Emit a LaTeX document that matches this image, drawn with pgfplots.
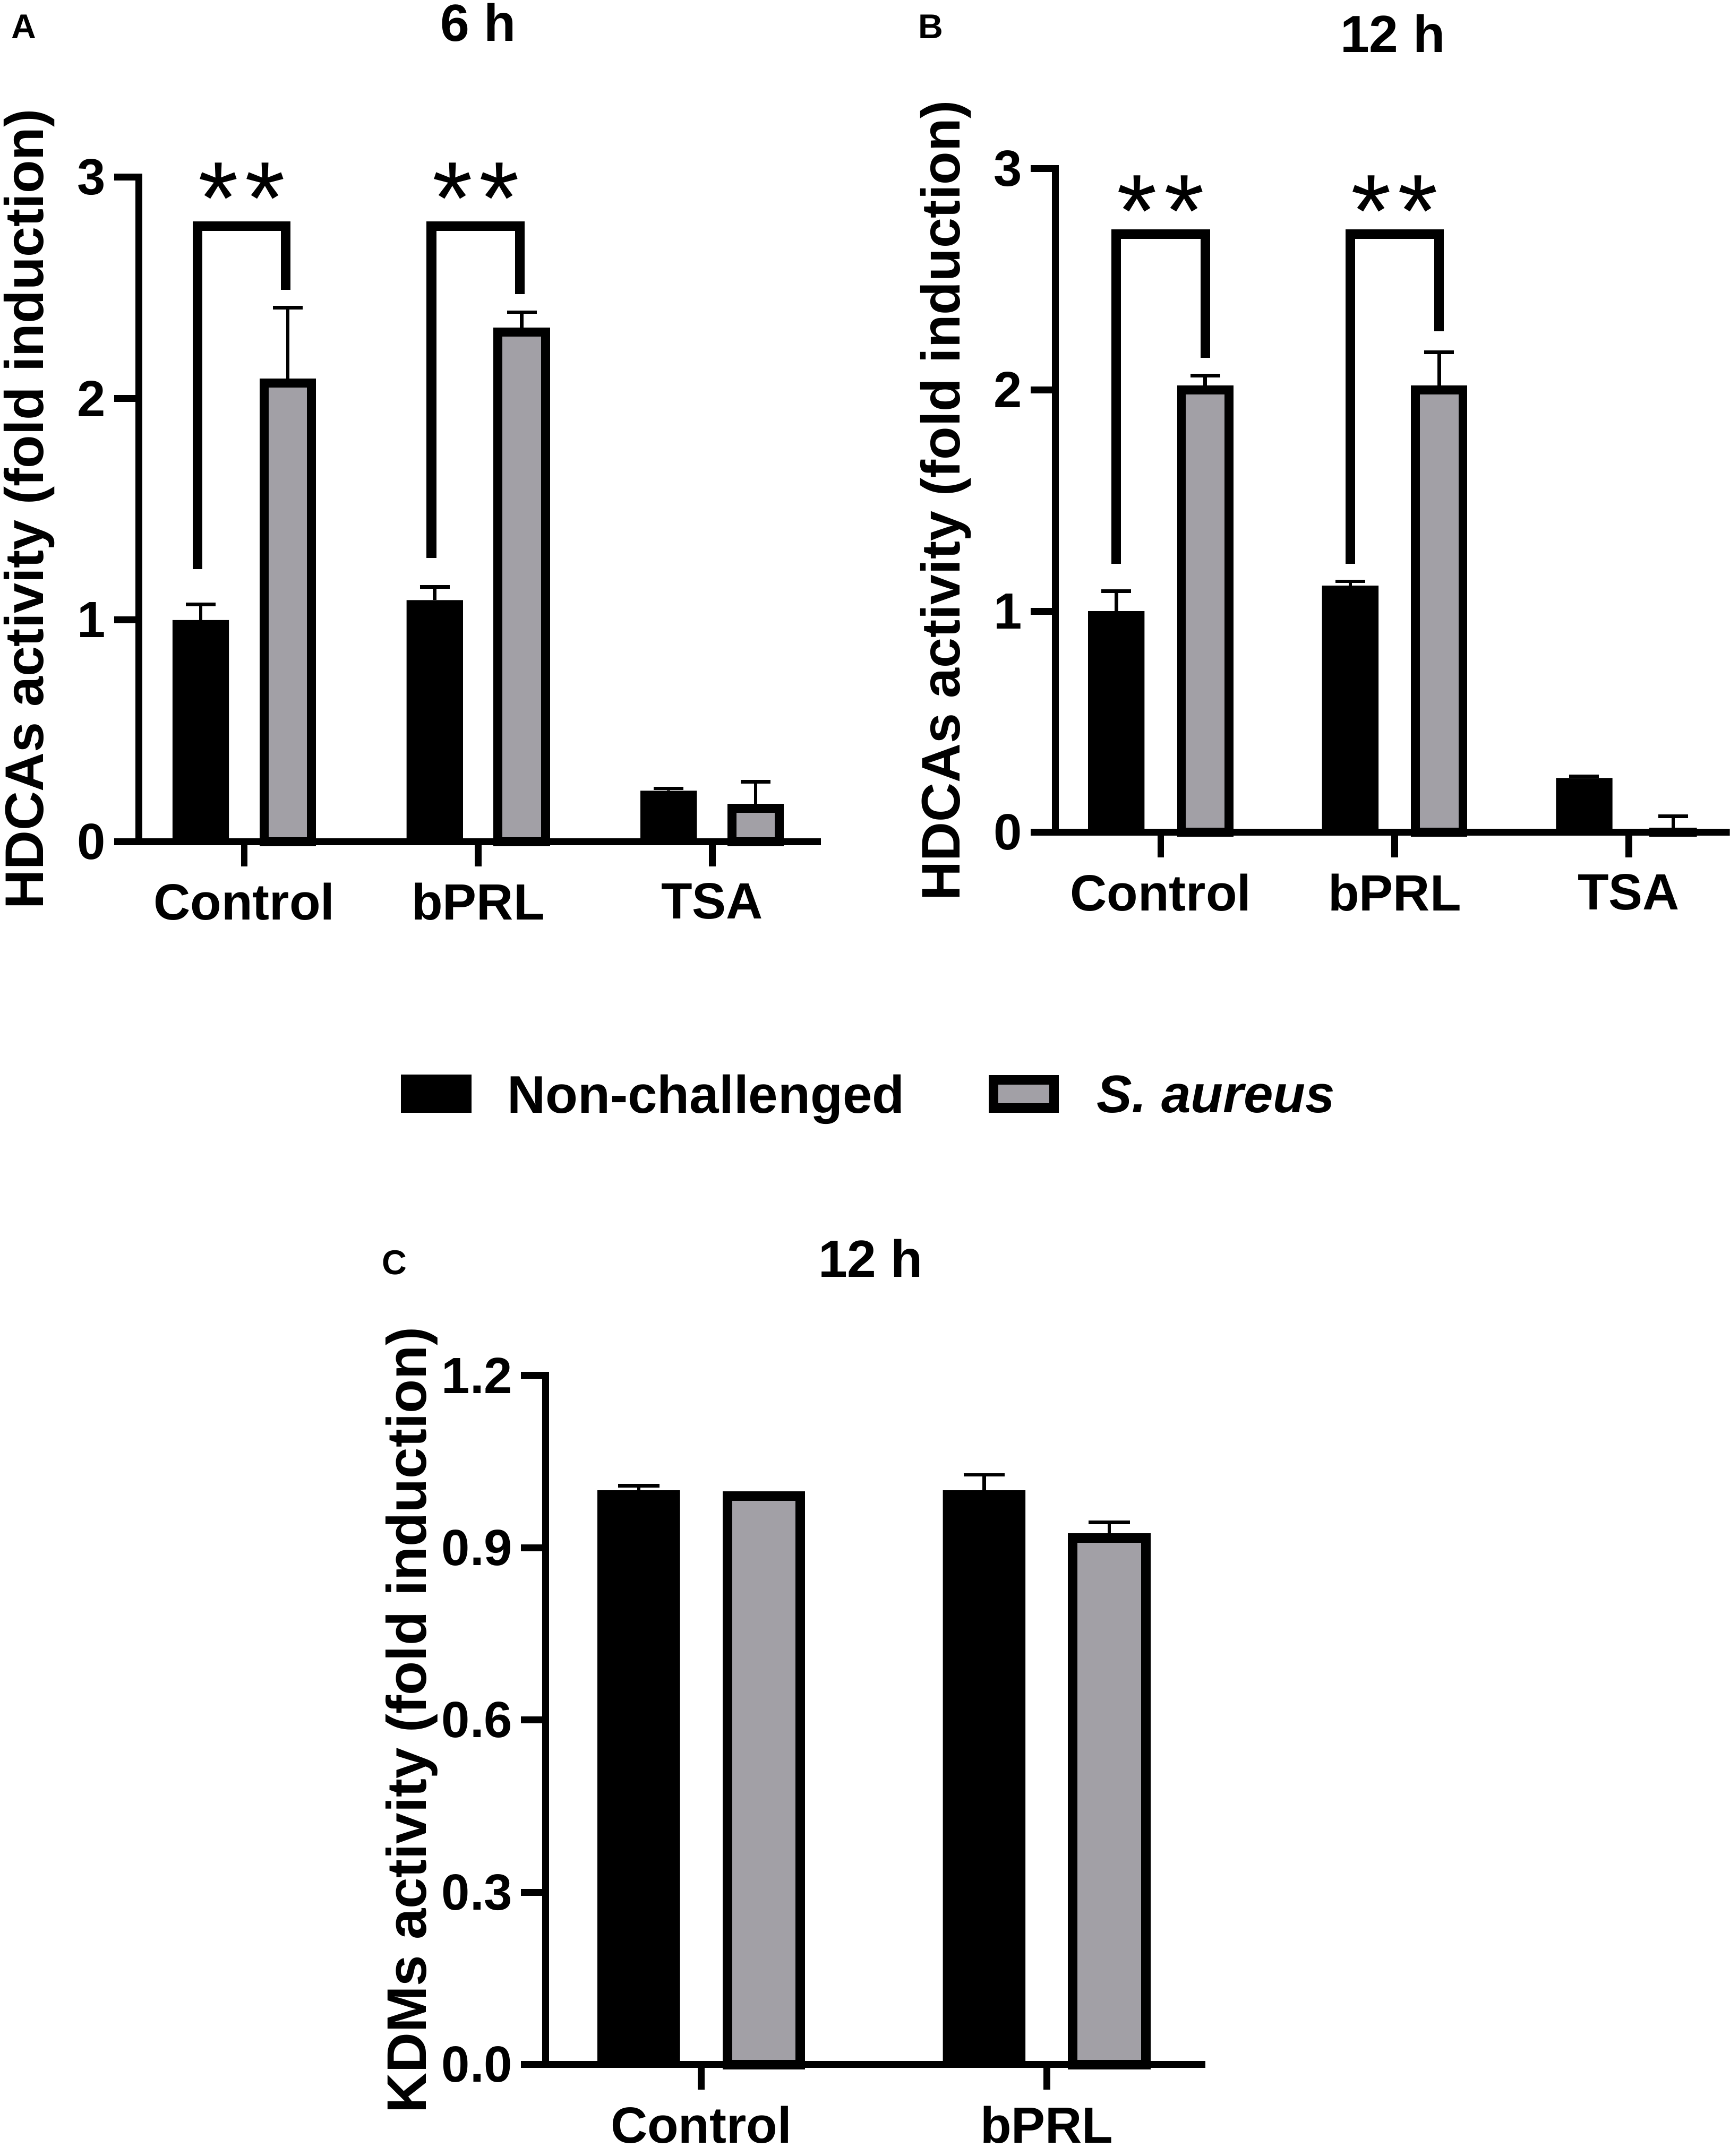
\documentclass[border=0pt]{standalone}
\usepackage{fontspec}
\setmainfont{Liberation Sans}
\usepackage{pgfplots}
\usepackage{pgfplotstable}
\pgfplotsset{compat=1.18}
\definecolor{barGray}{HTML}{A2A0A6}

\pgfplotstableread{
x ncy nce say sae
0 1.00 0.07 2.07 0.34
1 1.09 0.06 2.30 0.09
2 0.23 0.01 0.15 0.12
}\dataA
\pgfplotstableread{
x ncy nce say sae
0 1.00 0.09 2.00 0.065
1 1.115 0.02 2.00 0.17
2 0.246 0.008 0.00 0.073
}\dataB
\pgfplotstableread{
x ncy nce say sae
0 1.00 0.008 0.99 0.0
1 1.00 0.027 0.917 0.027
}\dataC

\newcommand{\sigstars}{\fontsize{75}{75}\selectfont\mdseries *\kern5pt*}
\pgfplotsset{
 panel/.style={
  scale only axis,
  axis x line*=bottom, axis y line*=left,
  axis line style={line width=5pt, black, line cap=rect},
  tick align=outside,
  major tick length=18pt,
  major tick style={line width=5pt, black},
  minor tick num=0,
  ymin=0,
  clip=false,
  /pgf/number format/assume math mode=true,
  tick label style={font=\fontsize{37}{37}\selectfont\bfseries, inner sep=0pt},
  xticklabel style={anchor=north, yshift=-12pt},
  yticklabel style={anchor=east, xshift=-6pt},
  title style={font=\fontsize{38}{38}\selectfont\bfseries, anchor=base, inner sep=0pt},
 },
 ylab/.style 2 args={every axis y label/.style={at={(axis description cs:#1,0.5)}, rotate=90, anchor=base,
   inner sep=0pt, font=\fontsize{#2}{#2}\selectfont\bfseries}},
 barplot/.style={ybar, bar shift=0pt, forget plot,
  error bars/y dir=plus, error bars/y explicit,
  error bars/error bar style={line width=2.5pt, black},
  error bars/error mark options={rotate=90, line width=2.5pt, black, mark size=#1}},
 bracket/.style={black, line width=7pt, mark=none, line join=miter, forget plot},
}

\begin{document}
\begin{tikzpicture}[x=1pt,y=1pt]
\path[use as bounding box] (0pt,0pt) rectangle (1257pt,1567pt);
\clip (0pt,0pt) rectangle (1257pt,1567pt);

% ---------------- Panel A ----------------
\begin{axis}[panel,
  at={(101pt,955.3pt)}, anchor=south west,
  width=493pt, height=483.1pt,
  xmin=-0.45, xmax=2.45, ymax=3,
  xtick={0,1,2}, xticklabels={Control,bPRL,TSA},
  ytick={0,1,2,3},
  ylab={-0.141}{39.5},
  ylabel={HDCAs activity (fold induction)},
  title={6 h},
  title style={at={(axis description cs:0.5,1.192)}},
]
\addplot[barplot=10.8pt, fill=black, draw=none, bar width=41pt]
  table[x expr=\thisrow{x}-0.186, y=ncy, y error=nce]{\dataA};
\addplot[barplot=10.8pt, fill=barGray, draw=black, line width=6.5pt, bar width=34.5pt]
  table[x expr=\thisrow{x}+0.186, y=say, y error=sae]{\dataA};
\addplot[bracket] coordinates {(-0.2,1.23) (-0.2,2.777) (0.178,2.777) (0.178,2.49)};
\addplot[bracket] coordinates {(0.8,1.28) (0.8,2.777) (1.178,2.777) (1.178,2.47)};
\node[anchor=base, inner sep=0pt] at (axis cs:-0.01,2.743) {\sigstars};
\node[anchor=base, inner sep=0pt] at (axis cs:0.99,2.743) {\sigstars};
\node[anchor=base west, font=\fontsize{25}{25}\selectfont\bfseries, inner sep=0pt] at (axis description cs:-0.1886,1.2082) {A};
\end{axis}

% ---------------- Panel B ----------------
\begin{axis}[panel,
  at={(767pt,962pt)}, anchor=south west,
  width=493pt, height=482.4pt,
  xmin=-0.45, xmax=2.45, ymax=3,
  xtick={0,1,2}, xticklabels={Control,bPRL,TSA},
  ytick={0,1,2,3},
  ylab={-0.141}{39.5},
  ylabel={HDCAs activity (fold induction)},
  title={12 h},
  title style={at={(axis description cs:0.497,1.163)}},
]
\addplot[barplot=10.8pt, fill=black, draw=none, bar width=41pt]
  table[x expr=\thisrow{x}-0.19, y=ncy, y error=nce]{\dataB};
\addplot[barplot=10.8pt, fill=barGray, draw=black, line width=6.5pt, bar width=34.5pt]
  table[x expr=\thisrow{x}+0.19, y=say, y error=sae]{\dataB};
\addplot[bracket] coordinates {(-0.19,1.214) (-0.19,2.705) (0.19,2.705) (0.19,2.145)};
\addplot[bracket] coordinates {(0.81,1.214) (0.81,2.705) (1.19,2.705) (1.19,2.266)};
\node[anchor=base, inner sep=0pt] at (axis cs:0,2.647) {\sigstars};
\node[anchor=base, inner sep=0pt] at (axis cs:1,2.647) {\sigstars};
\node[anchor=base west, font=\fontsize{25}{25}\selectfont\bfseries, inner sep=0pt] at (axis description cs:-0.2028,1.1961) {B};
\end{axis}

% ---------------- Panel C ----------------
\begin{axis}[panel,
  at={(396.6pt,66.4pt)}, anchor=south west,
  width=477pt, height=500.9pt,
  xmin=-0.45, xmax=1.45, ymax=1.2,
  xtick={0,1}, xticklabels={Control,bPRL},
  ytick={0,0.3,0.6,0.9,1.2},
  yticklabel style={/pgf/number format/.cd, fixed, fixed zerofill, precision=1},
  ylab={-0.1824}{40.5},
  ylabel={KDMs activity (fold induction)},
  title={12 h},
  title style={at={(axis description cs:0.495,1.1306)}},
  legend columns=2,
  legend cell align=left,
  legend style={at={(axis description cs:-0.2205,1.4087)}, anchor=west,
    draw=none, fill=none, inner sep=0pt, outer sep=0pt,
    font=\fontsize{38.5}{38.5}\selectfont\bfseries,
    nodes={inner sep=0pt, text depth=0pt},
    /tikz/every even column/.append style={column sep=61pt}},
]
\addplot[barplot=15pt, fill=black, draw=none, bar width=60pt]
  table[x expr=\thisrow{x}-0.181, y=ncy, y error=nce]{\dataC};
\addplot[barplot=15pt, fill=barGray, draw=black, line width=7pt, bar width=53pt]
  table[x expr=\thisrow{x}+0.181, y=say, y error=sae]{\dataC};
\addlegendimage{legend image code/.code={\fill[black] (0pt,-13.7pt) rectangle (51pt,13.7pt); \path[draw=none] (0pt,0pt) -- (77pt,0pt);}}
\addlegendentry{Non-challenged}
\addlegendimage{legend image code/.code={\draw[fill=barGray, draw=black, line width=7pt] (3.5pt,-10.2pt) rectangle (47.5pt,10.2pt); \path[draw=none] (0pt,0pt) -- (78.5pt,0pt);}}
\addlegendentry{\itshape S. aureus}
\node[anchor=base west, font=\fontsize{25}{25}\selectfont\bfseries, inner sep=0pt] at (axis description cs:-0.2495,1.1465) {C};
\end{axis}
\end{tikzpicture}
\end{document}
